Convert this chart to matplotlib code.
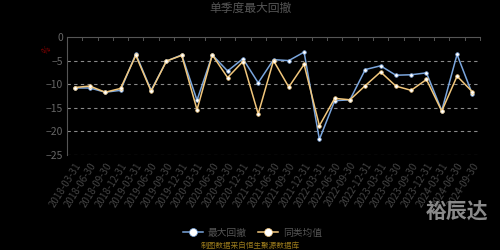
import matplotlib
matplotlib.use('Agg')
import matplotlib.pyplot as plt

plt.rcParams['font.family'] = ['Noto Sans CJK SC', 'DejaVu Sans']

dates = ['2018-03-31', '2018-06-30', '2018-09-30', '2018-12-31',
         '2019-03-31', '2019-06-30', '2019-09-30', '2019-12-31',
         '2020-03-31', '2020-06-30', '2020-09-30', '2020-12-31',
         '2021-03-31', '2021-06-30', '2021-09-30', '2021-12-31',
         '2022-03-31', '2022-06-30', '2022-09-30', '2022-12-31',
         '2023-03-31', '2023-06-30', '2023-09-30', '2023-12-31',
         '2024-03-31', '2024-06-30', '2024-09-30']
max_dd = [-10.8, -10.8, -11.7, -11.3, -3.6, -11.3, -5.1, -3.8, -13.4, -3.8,
          -7.2, -4.6, -9.7, -4.8, -5.0, -3.2, -21.7, -13.5, -13.3, -6.9,
          -6.1, -8.1, -8.0, -7.6, -15.6, -3.7, -12.1]
peer_avg = [-10.7, -10.4, -11.7, -10.9, -3.9, -11.5, -5.1, -3.9, -15.4, -3.8,
            -8.6, -5.2, -16.3, -5.0, -10.6, -5.8, -18.8, -13.0, -13.3, -10.3,
            -7.4, -10.4, -11.3, -9.0, -15.7, -8.3, -11.6]

fig = plt.figure(figsize=(5, 2.5), dpi=100, facecolor='black')
ax = fig.add_axes([0.134, 0.38, 0.826, 0.472], facecolor='black')

x = list(range(len(dates)))
ax.plot(x, max_dd, color='#7aa5dc', lw=1.1, marker='o', ms=2.6,
        mfc='white', mec='#7aa5dc', mew=0.5, label='最大回撤', zorder=3)
ax.plot(x, peer_avg, color='#f2c77c', lw=1.1, marker='o', ms=2.6,
        mfc='white', mec='#f2c77c', mew=0.5, label='同类均值', zorder=3)

ax.set_xlim(-0.5, len(dates) - 0.5)
ax.set_ylim(-25, 0)
ax.set_yticks([0, -5, -10, -15, -20, -25])
for v in [-5, -10, -15, -20, -25]:
    ax.axhline(v, color='#8a8a8a', lw=0.8, ls=(0, (3, 3)), zorder=1)

for s in ['right', 'bottom']:
    ax.spines[s].set_visible(False)
ax.spines['top'].set_color('#555555')
ax.spines['left'].set_color('#555555')

ax.set_xticks(x)
ax.set_xticklabels(dates, rotation=58, ha='right', rotation_mode='anchor',
                   fontsize=7, color='#444444')
ax.tick_params(axis='x', length=0, pad=4)
# small ticks on top axis line
for i in range(len(dates) + 1):
    ax.plot([i - 0.5, i - 0.5], [0, -0.6], color='#555555', lw=0.7, clip_on=False)
ax.tick_params(axis='y', colors='#555555', labelcolor='#666666', labelsize=7.5, length=0, pad=3)

fig.text(0.094, 0.8, '%', color='#8b0000', fontsize=6, rotation=45, ha='center', va='center')
fig.text(0.5, 0.968, '单季度最大回撤', color='#555555', fontsize=8.5, ha='center', va='center')

leg = fig.legend(loc='center', bbox_to_anchor=(0.505, 0.07), ncol=2, frameon=False,
                 fontsize=7, handlelength=2.0, columnspacing=1.2, handletextpad=0.5,
                 markerscale=2.2)
for t in leg.get_texts():
    t.set_color('#555555')

fig.text(0.5, 0.018, '制图数据来自恒生聚源数据库', color='#9a7a1c', fontsize=5.5,
         ha='center', va='center')
fig.text(0.915, 0.152, '裕辰达', color='#8a8a8a', fontsize=15, fontweight='bold',
         ha='center', va='center')

fig.savefig('out.png', dpi=100, facecolor='black')
